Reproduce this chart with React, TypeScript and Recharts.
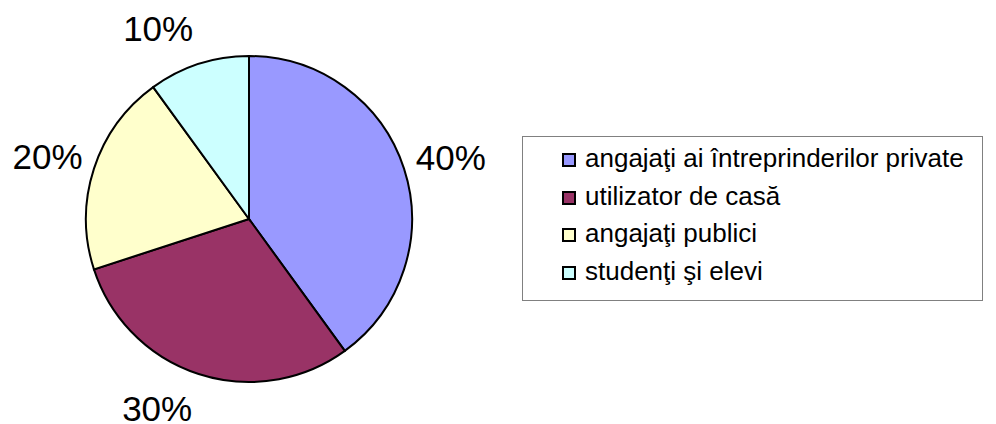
import { PieChart, Pie, Cell, Legend } from 'recharts';

const categories = [
    "angajaţi ai întreprinderilor private",
    "utilizator de casă",
    "angajaţi publici",
    "studenţi şi elevi",
];
const shares = [40, 30, 20, 10];
const colors = ["#9999FF", "#993366", "#FFFFCC", "#CCFFFF"];

const data = categories.map((name, i) => ({ name, value: shares[i] }));

// labels sit a bit off the slice middle in the original
const labelNudge = [-1.1, -7.8, 0.7, 7.5];
const RAD = Math.PI / 180;

const renderLabel = (props: any) => {
    const { cx, cy, midAngle, percent, index } = props;
    const angle = midAngle + labelNudge[index];
    const r = 211;
    const x = cx + r * Math.cos(-angle * RAD);
    const y = cy + r * Math.sin(-angle * RAD);
    return (
        <text x={x} y={y} textAnchor="middle" dominantBaseline="central"
            fontSize={35} fill="#000" fontFamily="'Liberation Sans', Arial, sans-serif">
            {`${Math.round(percent * 100)}%`}
        </text>
    );
};

// legend keeps data order (recharts would sort it by name)
const renderLegend = () => (
    <div style={{
        boxSizing: 'border-box', width: 461, height: 165,
        border: '1px solid #808080', background: '#fff',
        paddingTop: 3, paddingLeft: 39,
        fontFamily: "'Liberation Sans', Arial, sans-serif", fontSize: 26,
    }}>
        {data.map((d, i) => (
            <div key={d.name} style={{ display: 'flex', alignItems: 'center', height: 37.5, lineHeight: '37.5px' }}>
                <span style={{
                    display: 'inline-block', width: 10, height: 10, marginTop: 3,
                    border: '2px solid #000', background: colors[i], marginRight: 9,
                }} />
                <span style={{ color: '#000' }}>{d.name}</span>
            </div>
        ))}
    </div>
);

export default function App() {
    return (
        <div style={{ position: 'absolute', left: 0, top: 0, width: 996, height: 424, background: '#fff' }}>
            <PieChart width={996} height={424} margin={{ top: 0, right: 0, bottom: 0, left: 0 }}>
                <Pie
                    data={data}
                    dataKey="value"
                    nameKey="name"
                    cx={249}
                    cy={219}
                    outerRadius={163}
                    startAngle={90}
                    endAngle={-270}
                    stroke="#000"
                    strokeWidth={2}
                    label={renderLabel}
                    labelLine={false}
                    isAnimationActive={false}
                >
                    {data.map((d, i) => (
                        <Cell key={d.name} fill={colors[i]} />
                    ))}
                </Pie>
                <Legend content={renderLegend} wrapperStyle={{ position: 'absolute', left: 522, top: 136, width: 461, height: 165 }} />
            </PieChart>
        </div>
    );
}
